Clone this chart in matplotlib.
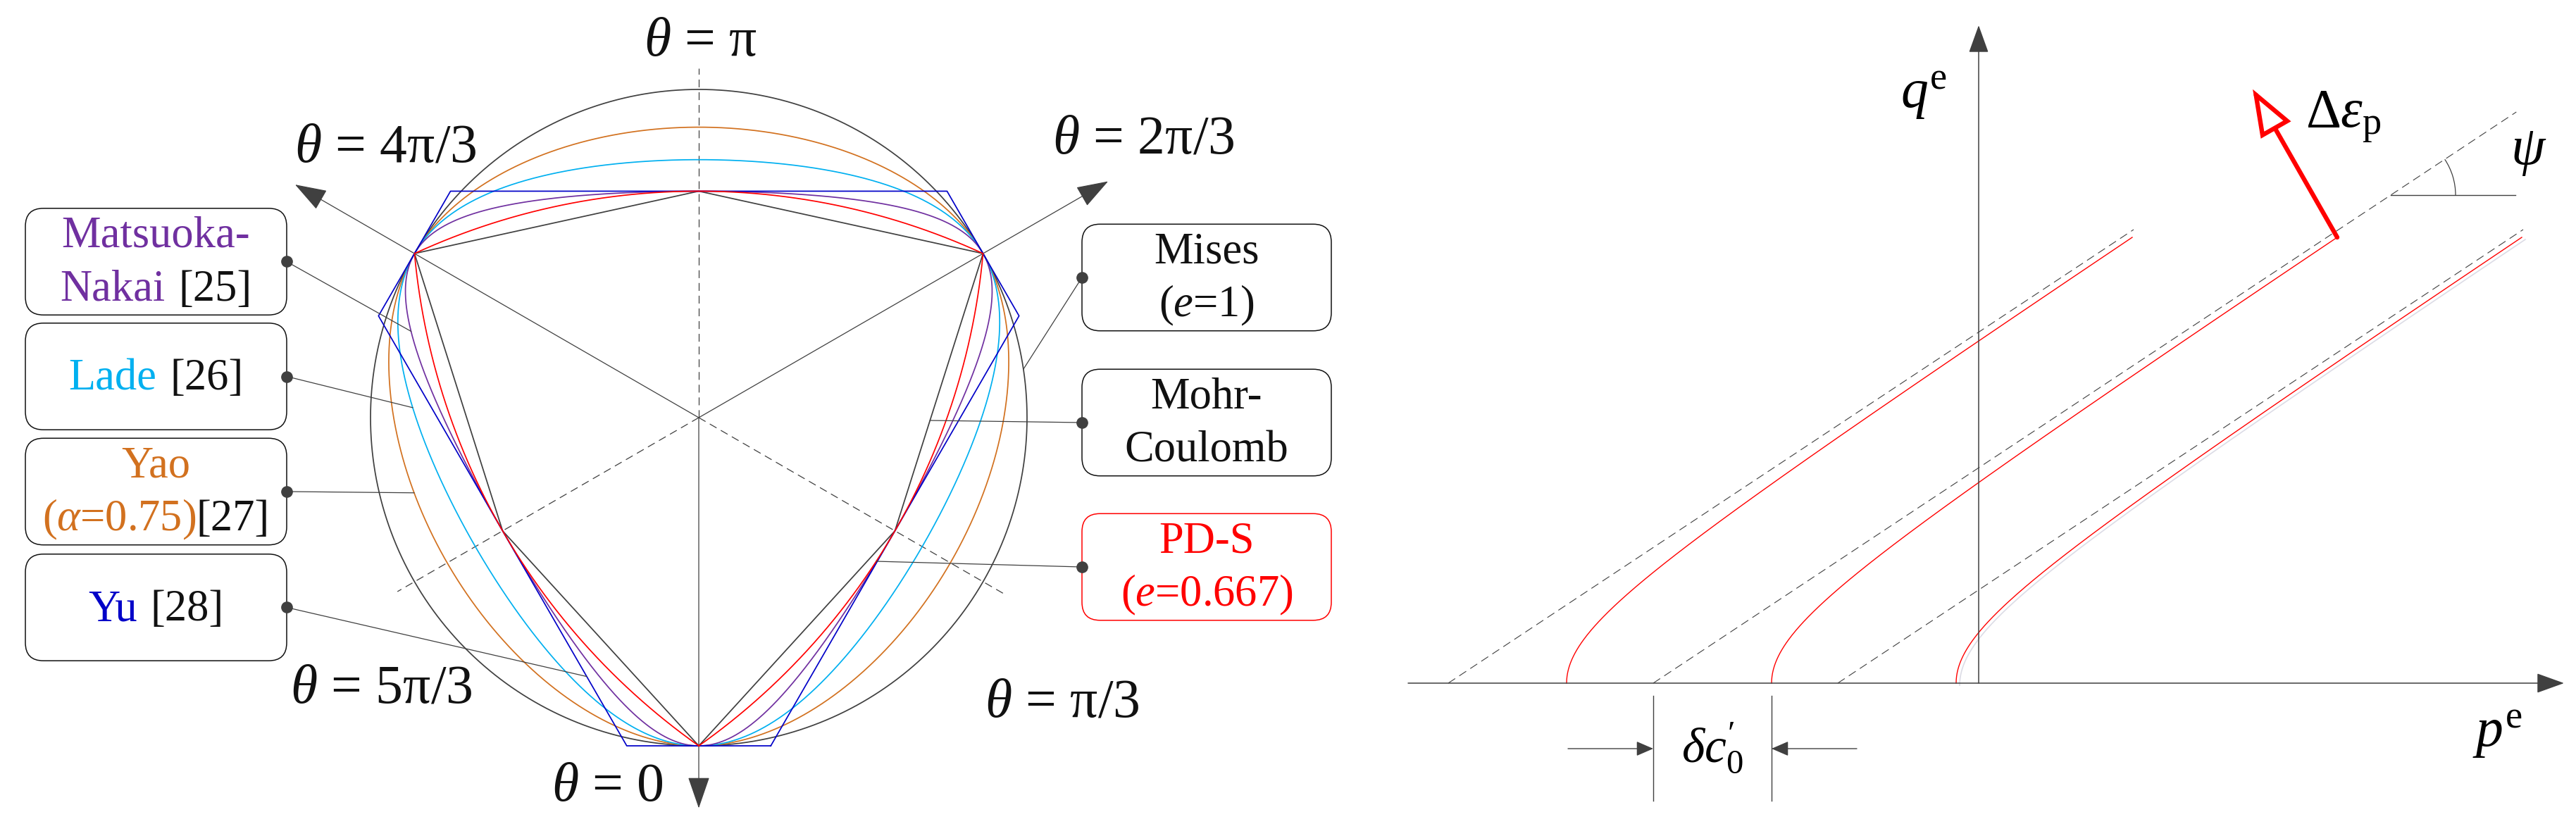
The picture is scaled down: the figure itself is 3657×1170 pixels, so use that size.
import numpy as np
import matplotlib
matplotlib.use('Agg')
import matplotlib.pyplot as plt
from matplotlib import font_manager
from matplotlib.patches import FancyBboxPatch, Arc
from matplotlib.transforms import IdentityTransform

_avail = {f.name for f in font_manager.fontManager.ttflist}
SERIF = 'Liberation Serif' if 'Liberation Serif' in _avail else 'DejaVu Serif'
plt.rcParams['font.family'] = [SERIF, 'DejaVu Serif']
plt.rcParams['mathtext.fontset'] = 'custom'
plt.rcParams['mathtext.rm'] = SERIF
plt.rcParams['mathtext.it'] = SERIF + ':italic'
plt.rcParams['mathtext.bf'] = SERIF + ':bold'
plt.rcParams['lines.scale_dashes'] = False

# ---------------- data : left panel (deviatoric plane, R = 1) ----------------
e_tc = 0.69          # tension / compression radius ratio (Mohr-Coulomb, Yu, M-N, PD-S)
e_lade = 0.786       # Lade tension radius ratio
e_yao = 0.885        # Yao (alpha = 0.75) tension radius ratio

axis_theta_deg = [0, 60, 120, 180, 240, 300]
axis_len = [1.19, 1.08, 1.44, 1.064, 1.42, 1.06]
axis_dashed = [False, True, False, True, False, True]
angle_texts = [r'$\theta$ = 0', r'$\theta$ = π/3', r'$\theta$ = 2π/3',
               r'$\theta$ = π', r'$\theta$ = 4π/3', r'$\theta$ = 5π/3']
angle_text_xy = [(-0.277, -1.167), (1.107, -0.912), (1.354, 0.805),
                 (0.006, 1.103), (-0.954, 0.779), (-0.968, -0.869)]

# boxes
left_box_cy = [0.4753, 0.1255, -0.2253, -0.5783]
right_box_cy = [0.427, -0.015, -0.455]
left_box_x = (-2.0515, -1.2554)
right_box_x = (1.1674, 1.9270)
box_h = 0.325

C_MN, C_LADE, C_YAO, C_YU, C_PDS = '#7030A0', '#00B0F0', '#D2711F', '#0000C8', '#FF0000'
C_DARK, C_BLACK = '#404040', '#111111'

left_box_texts = [
    [[("Matsuoka-", C_MN, 0)], [("Nakai", C_MN, 0), ("[25]", C_BLACK, 0.3)]],
    [[("Lade", C_LADE, 0), ("[26]", C_BLACK, 0.3)]],
    [[("Yao", C_YAO, 0)], [(r"($\alpha$=0.75)", C_YAO, 0), ("[27]", C_BLACK, 0)]],
    [[("Yu", C_YU, 0), ("[28]", C_BLACK, 0.3)]],
]
right_box_texts = [
    [[("Mises", C_BLACK, 0)], [(r"($e$=1)", C_BLACK, 0)]],
    [[("Mohr-", C_BLACK, 0)], [("Coulomb", C_BLACK, 0)]],
    [[("PD-S", C_PDS, 0)], [(r"($e$=0.667)", C_PDS, 0)]],
]
right_box_edge = [C_BLACK, C_BLACK, C_PDS]
# leader targets: figure angle theta (deg) on the corresponding curve
left_leader_theta = [253.3, 268.0, 284.8, 336.6]     # MN, Lade, Yao, Yu
right_leader_theta = [98.5, 89.3, 51.0]              # Mises, MC, PD-S

# ---------------- data : right panel (p-q plane, units of 100 px) ----------------
p_dashed = [-7.53, -4.62, -2.00]       # intercepts of dashed asymptotes
q_dashed_top = [6.44, 8.11, 6.44]
psi_deg = 33.5
dc0 = 1.68                              # delta c'_0
q_red_top = 6.33
q_psi = 6.93
flow_angle_deg = 119.7
flow_len = 2.42

# ---------------- helpers ----------------
def xy(r, th):
    return r * np.sin(th), -r * np.cos(th)

def lode_from_comp(th):
    return np.arccos(np.clip(np.cos(3 * th), -1, 1)) / 3.0

def bisect(f, lo, hi, n=80):
    lo = np.array(lo, dtype=float); hi = np.array(hi, dtype=float)
    for _ in range(n):
        mid = 0.5 * (lo + hi)
        neg = f(mid) < 0
        lo = np.where(neg, mid, lo); hi = np.where(neg, hi, mid)
    return 0.5 * (lo + hi)

def I3(a, w):
    return 1 - 0.75 * a ** 2 + 0.25 * a ** 3 * np.cos(3 * w)

def alim(w):
    return -1.0 / np.cos(w + 2 * np.pi / 3) * (1 - 1e-9)

def r_mn(th, e):
    s = 3 * (1 - e) / (1 + e)
    ac = 4 * s / (3 - s)
    F = lambda a, w: 3 * (3 - 0.75 * a ** 2) / I3(a, w)
    K = F(ac, 0.0)
    w = lode_from_comp(th)
    a = bisect(lambda a: F(a, w) - K, np.zeros_like(w), alim(w))
    return a / ac

def lade_ratio(ac):
    C = I3(ac, 0.0)
    w = np.pi / 3
    at = bisect(lambda a: C - I3(a, w), 0.0, alim(w))
    return at / ac

def r_lade(th, e):
    ac = float(bisect(lambda a: e - lade_ratio(a), 1e-3, 1.99, n=60))
    C = I3(ac, 0.0)
    w = lode_from_comp(th)
    a = bisect(lambda a: C - I3(a, w), np.zeros_like(w), alim(w))
    return a / ac

def r_ww(th, e):
    wt = np.pi / 3 - lode_from_comp(th)
    c = np.cos(wt)
    num = 2 * (1 - e ** 2) * c + (2 * e - 1) * np.sqrt(4 * (1 - e ** 2) * c ** 2 + 5 * e ** 2 - 4 * e)
    den = 4 * (1 - e ** 2) * c ** 2 + (1 - 2 * e) ** 2
    return num / den

def r_arc(th, e):
    b = np.pi / 3 - lode_from_comp(th)
    c = (e ** 2 - 1) / (2 * e - 1)
    rho = e - c
    return c * np.cos(b) + np.sqrt(c ** 2 * np.cos(b) ** 2 - c ** 2 + rho ** 2)

def poly_ray(verts, th):
    vx, vy = verts
    ux, uy = np.sin(th), -np.cos(th)
    best = np.inf
    n = len(vx)
    for i in range(n):
        x1, y1, x2, y2 = vx[i], vy[i], vx[(i + 1) % n], vy[(i + 1) % n]
        ex, ey = x2 - x1, y2 - y1
        den = ux * ey - uy * ex
        if abs(den) < 1e-12:
            continue
        t = (x1 * ey - y1 * ex) / den
        s = (x1 * uy - y1 * ux) / den
        if t > 0 and -1e-9 <= s <= 1 + 1e-9:
            best = min(best, t)
    return best

# Mohr-Coulomb hexagon
k6 = np.arange(6)
mc_r = np.where(k6 % 2 == 0, 1.0, e_tc)
mc_verts = xy(mc_r, k6 * np.pi / 3)
# Yu twin-shear hexagon (lines normal to meridians)
nth = k6 * np.pi / 3
nd = np.where(k6 % 2 == 0, 1.0, e_tc)
yu_x, yu_y = [], []
for i in range(6):
    j = (i + 1) % 6
    A = np.array([[np.sin(nth[i]), -np.cos(nth[i])], [np.sin(nth[j]), -np.cos(nth[j])]])
    sol = np.linalg.solve(A, np.array([nd[i], nd[j]]))
    yu_x.append(sol[0]); yu_y.append(sol[1])
yu_verts = (np.array(yu_x), np.array(yu_y))

# ---------------- figure ----------------
fig = plt.figure(figsize=(36.57, 11.70), dpi=100)
renderer = fig.canvas.get_renderer()

axL = fig.add_axes([0, 0, 1950 / 3657, 1])
axL.set_xlim(-2.1288, 2.0558)
axL.set_ylim(-1.2382, 1.2725)
axL.axis('off')

th = np.linspace(0, 2 * np.pi, 2401)
LW = 1.25
# axes lines
for tdeg, L, dashed in zip(axis_theta_deg, axis_len, axis_dashed):
    t = np.deg2rad(tdeg)
    x1, y1 = xy(L, t)
    if dashed:
        axL.plot([0, x1], [0, y1], color=C_DARK, lw=0.9, ls=(0, (8, 5)), zorder=1)
    else:
        axL.annotate('', xy=(x1, y1), xytext=(0, 0),
                     arrowprops=dict(arrowstyle='-|>,head_length=2.9,head_width=1.0',
                                     mutation_scale=10, color=C_DARK, lw=0.9,
                                     shrinkA=0, shrinkB=0), zorder=1)

# curves
cx, cy = xy(np.ones_like(th), th)
axL.plot(cx, cy, color=C_DARK, lw=LW, zorder=2)                      # Mises
axL.plot(*xy(r_ww(th, e_yao), th), color=C_YAO, lw=LW, zorder=3)    # Yao
axL.plot(*xy(r_lade(th, e_lade), th), color=C_LADE, lw=LW, zorder=3)  # Lade
axL.plot(*xy(r_mn(th, e_tc), th), color=C_MN, lw=LW, zorder=3)       # Matsuoka-Nakai
axL.plot(*xy(r_arc(th, e_tc), th), color=C_PDS, lw=LW, zorder=4)    # PD-S
axL.plot(np.append(yu_verts[0], yu_verts[0][0]), np.append(yu_verts[1], yu_verts[1][0]),
         color=C_YU, lw=LW, zorder=3)                                  # Yu
axL.plot(np.append(mc_verts[0], mc_verts[0][0]), np.append(mc_verts[1], mc_verts[1][0]),
         color=C_DARK, lw=LW, zorder=2)                                # Mohr-Coulomb

# angle labels
for s, (x, y) in zip(angle_texts, angle_text_xy):
    axL.text(x, y, s, fontsize=56, ha='center', va='baseline', color=C_BLACK)

FS_BOX = 45

def colored_line(ax, xc, yb, parts, fs):
    X, Y = ax.transData.transform((xc, yb))
    em = fs * 100 / 72
    objs, widths = [], []
    for s, c, g in parts:
        t = fig.text(0, 0, s, color=c, fontsize=fs, va='baseline', ha='left',
                     transform=IdentityTransform(), zorder=10)
        objs.append(t)
        widths.append(t.get_window_extent(renderer).width + g * em)
    cur = X - sum(widths) / 2
    for t, w, (s, c, g) in zip(objs, widths, parts):
        cur += g * em
        t.set_position((cur, Y))
        cur += w - g * em

def draw_box(ax, x0, x1, ycen, lines, ec):
    p = FancyBboxPatch((x0, ycen - box_h / 2), x1 - x0, box_h,
                       boxstyle='round,pad=0,rounding_size=0.055',
                       fc='white', ec=ec, lw=1.1, zorder=5)
    ax.add_patch(p)
    xc = 0.5 * (x0 + x1)
    if len(lines) == 2:
        colored_line(ax, xc, ycen + 0.044, lines[0], FS_BOX)
        colored_line(ax, xc, ycen - 0.119, lines[1], FS_BOX)
    else:
        colored_line(ax, xc, ycen - 0.040, lines[0], FS_BOX)

left_funcs = [lambda t: r_mn(np.array([t]), e_tc)[0],
              lambda t: r_lade(np.array([t]), e_lade)[0],
              lambda t: r_ww(np.array([t]), e_yao)[0],
              lambda t: poly_ray(yu_verts, t)]
right_funcs = [lambda t: 1.0,
               lambda t: poly_ray(mc_verts, t),
               lambda t: r_arc(np.array([t]), e_tc)[0]]

for cyb, lines, tdeg, f in zip(left_box_cy, left_box_texts, left_leader_theta, left_funcs):
    draw_box(axL, left_box_x[0], left_box_x[1], cyb, lines, C_BLACK)
    t = np.deg2rad(tdeg)
    tx, ty = xy(f(t), t)
    axL.plot([left_box_x[1], tx], [cyb, ty], color=C_DARK, lw=0.9, zorder=6)
    axL.plot(left_box_x[1], cyb, 'o', color=C_DARK, ms=11, zorder=7)

for cyb, lines, tdeg, f, ec in zip(right_box_cy, right_box_texts, right_leader_theta,
                                   right_funcs, right_box_edge):
    draw_box(axL, right_box_x[0], right_box_x[1], cyb, lines, ec)
    t = np.deg2rad(tdeg)
    tx, ty = xy(f(t), t)
    axL.plot([right_box_x[0], tx], [cyb, ty], color=C_DARK, lw=0.9, zorder=6)
    axL.plot(right_box_x[0], cyb, 'o', color=C_DARK, ms=11, zorder=7)

# ---------------- right panel ----------------
axR = fig.add_axes([1950 / 3657, 0, 1707 / 3657, 1])
axR.set_xlim(-8.59, 8.48)
axR.set_ylim(-2.0, 9.7)
axR.axis('off')

head_ax = '-|>,head_length=2.5,head_width=0.9'
axR.annotate('', xy=(8.31, 0), xytext=(-8.10, 0),
             arrowprops=dict(arrowstyle=head_ax, mutation_scale=10, color=C_DARK, lw=1.1,
                             shrinkA=0, shrinkB=0))
axR.annotate('', xy=(0, 9.34), xytext=(0, 0),
             arrowprops=dict(arrowstyle=head_ax, mutation_scale=10, color=C_DARK, lw=1.1,
                             shrinkA=0, shrinkB=0))

tpsi = np.tan(np.deg2rad(psi_deg))
B = dc0 * tpsi
for i, (p0, qt) in enumerate(zip(p_dashed, q_dashed_top)):
    axR.plot([p0, p0 + qt / tpsi], [0, qt], color=C_DARK, lw=0.8, ls=(0, (8.5, 5)))
    q = np.linspace(0, q_red_top, 400)
    p = p0 + dc0 * np.sqrt(1 + (q / B) ** 2)
    if i == 2:
        axR.plot(p + 0.05, q - 0.03, color='#DCDCE6', lw=1.2, zorder=1)
    axR.plot(p, q, color='#FF0000', lw=1.0, zorder=2)

# plastic strain increment arrow
p_tail = p_dashed[1] + dc0 * np.sqrt(1 + (q_red_top / B) ** 2)
ang = np.deg2rad(flow_angle_deg)
axR.annotate('', xy=(p_tail + flow_len * np.cos(ang), q_red_top + flow_len * np.sin(ang)),
             xytext=(p_tail, q_red_top),
             arrowprops=dict(arrowstyle='-|>,head_length=3.9,head_width=1.45', mutation_scale=10,
                             fc='white', ec='#FF0000', lw=4.6, shrinkA=0, shrinkB=0,
                             joinstyle='miter'))

# psi marker
pc = p_dashed[1] + q_psi / tpsi
axR.plot([pc, pc + 1.77], [q_psi, q_psi], color=C_DARK, lw=1.0)
axR.add_patch(Arc((pc, q_psi), 1.84, 1.84, theta1=0, theta2=psi_deg, color=C_DARK, lw=0.9))

# delta c0 marker
x1m, x2m = p_dashed[1], p_dashed[1] + dc0
for xm in (x1m, x2m):
    axR.plot([xm, xm], [-0.18, -1.67], color=C_DARK, lw=1.0)
head_s = '-|>,head_length=1.5,head_width=0.65'
axR.annotate('', xy=(x1m, -0.93), xytext=(x1m - 1.21, -0.93),
             arrowprops=dict(arrowstyle=head_s, mutation_scale=10, color=C_DARK, lw=1.0,
                             shrinkA=0, shrinkB=0))
axR.annotate('', xy=(x2m, -0.93), xytext=(x2m + 1.21, -0.93),
             arrowprops=dict(arrowstyle=head_s, mutation_scale=10, color=C_DARK, lw=1.0,
                             shrinkA=0, shrinkB=0))

FS_R = 56
axR.text(-0.78, 8.17, r'$q^{\mathrm{e}}$', fontsize=FS_R, ha='center', va='baseline')
axR.text(7.36, -0.90, r'$p^{\mathrm{e}}$', fontsize=FS_R, ha='center', va='baseline')
axR.text(5.18, 7.90, r'Δ$\varepsilon_{\mathrm{p}}$', fontsize=FS_R, ha='center', va='baseline')
axR.text(7.81, 7.37, r'$\psi$', fontsize=FS_R, ha='center', va='baseline')
axR.text(-3.78, -1.13, r"$\delta c^{\prime}_{0}$", fontsize=50, ha='center', va='baseline')

fig.savefig('out.png', dpi=100, facecolor='white')
